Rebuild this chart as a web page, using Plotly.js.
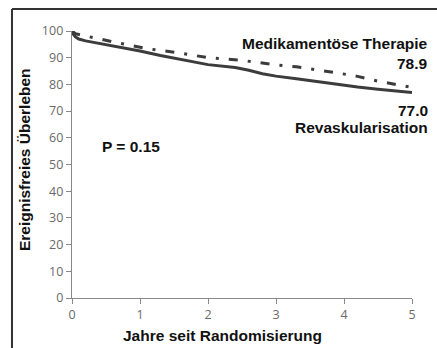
<!DOCTYPE html>
<html>
<head>
<meta charset="utf-8">
<script src="https://cdn.plot.ly/plotly-3.0.1.min.js"></script>
<style>
  html, body { margin: 0; padding: 0; background: #fff; }
  #chart { width: 437px; height: 348px; }
</style>
</head>
<body>
<div id="chart"></div>
<script>
// Kaplan-Meier: ereignisfreies Überleben (%) nach Jahren seit Randomisierung
const revaskYears = [0, 0.02, 0.05, 0.1, 0.2, 0.4, 0.7, 1.0, 1.3, 1.6, 2.0, 2.4, 2.6, 2.8, 3.0, 3.3, 3.7, 4.0, 4.2, 4.5, 4.8, 5.0];
const revaskSurvival = [100, 98.8, 97.8, 97.0, 96.3, 95.4, 94.0, 92.5, 90.8, 89.3, 87.4, 86.3, 85.3, 84.0, 83.1, 82.1, 80.6, 79.6, 79.0, 78.2, 77.4, 77.0];

const medYears = [0, 0.05, 0.15, 0.4, 0.65, 1.1, 1.6, 2.0, 2.5, 3.0, 3.3, 3.9, 4.2, 4.5, 4.9, 5.0];
const medSurvival = [100, 99.0, 98.4, 97.0, 95.7, 93.4, 91.7, 90.0, 89.0, 87.3, 86.6, 84.3, 83.0, 81.2, 79.5, 78.9];

const xTicks = [0, 1, 2, 3, 4, 5];
const yTicks = [0, 10, 20, 30, 40, 50, 60, 70, 80, 90, 100];

const medLabel = 'Medikamentöse Therapie';
const revaskLabel = 'Revaskularisation';
const medFinal = medSurvival[medSurvival.length - 1].toFixed(1);
const revaskFinal = revaskSurvival[revaskSurvival.length - 1].toFixed(1);
const pValueText = 'P = 0.15';

const boldFont = { family: 'Liberation Sans, Arial, sans-serif', size: 15.5, color: '#111' };

const traces = [
  {
    x: medYears, y: medSurvival, mode: 'lines', name: medLabel,
    line: { color: '#3c3c3c', width: 3, dash: '9px,10px,3px,10px' }, hoverinfo: 'skip'
  },
  {
    x: revaskYears, y: revaskSurvival, mode: 'lines', name: revaskLabel,
    line: { color: '#3c3c3c', width: 3 }, hoverinfo: 'skip'
  }
];

const tickFont = { family: 'Open Sans, DejaVu Sans, sans-serif', size: 12.5, color: '#6a6a6a' };

const layout = {
  width: 437, height: 348,
  margin: { l: 72, r: 25, t: 31, b: 50 },
  paper_bgcolor: '#fff', plot_bgcolor: '#fff',
  showlegend: false,
  xaxis: {
    range: [0, 5], tickvals: xTicks, ticks: 'outside', ticklen: 5,
    tickcolor: '#888', showline: true, linecolor: '#888', linewidth: 1.2,
    showgrid: false, zeroline: false, tickfont: tickFont
  },
  yaxis: {
    range: [0, 100], tickvals: yTicks, ticks: 'outside', ticklen: 5,
    tickcolor: '#888', showline: true, linecolor: '#888', linewidth: 1.2,
    showgrid: false, zeroline: false, tickfont: tickFont
  },
  shapes: [
    { type: 'line', xref: 'paper', yref: 'paper', x0: -0.1765, x1: 1.1, y0: 1.0824, y1: 1.0824, line: { color: '#333', width: 2 } },
    { type: 'line', xref: 'paper', yref: 'paper', x0: -0.1765, x1: -0.1765, y0: 1.0824, y1: -0.2, line: { color: '#333', width: 2 } }
  ],
  annotations: [
    { text: '<b>Ereignisfreies Überleben</b>', xref: 'paper', yref: 'paper', x: -0.138, y: 0.517, textangle: -90, showarrow: false, font: boldFont, xanchor: 'center', yanchor: 'middle' },
    { text: '<b>Jahre seit Randomisierung</b>', xref: 'paper', yref: 'paper', x: 0.444, y: -0.142, showarrow: false, font: boldFont, xanchor: 'center', yanchor: 'middle' },
    { text: '<b>' + medLabel + '</b>', xref: 'paper', yref: 'paper', x: 1.053, y: 0.955, showarrow: false, font: boldFont, xanchor: 'right', yanchor: 'middle' },
    { text: '<b>' + medFinal + '</b>', xref: 'paper', yref: 'paper', x: 1.053, y: 0.880, showarrow: false, font: boldFont, xanchor: 'right', yanchor: 'middle' },
    { text: '<b>' + revaskFinal + '</b>', xref: 'paper', yref: 'paper', x: 1.053, y: 0.704, showarrow: false, font: boldFont, xanchor: 'right', yanchor: 'middle' },
    { text: '<b>' + revaskLabel + '</b>', xref: 'paper', yref: 'paper', x: 1.053, y: 0.640, showarrow: false, font: boldFont, xanchor: 'right', yanchor: 'middle' },
    { text: '<b>' + pValueText + '</b>', xref: 'paper', yref: 'paper', x: 0.082, y: 0.566, showarrow: false, font: boldFont, xanchor: 'left', yanchor: 'middle' }
  ]
};

Plotly.newPlot('chart', traces, layout, { staticPlot: true, displayModeBar: false });
</script>
</body>
</html>
